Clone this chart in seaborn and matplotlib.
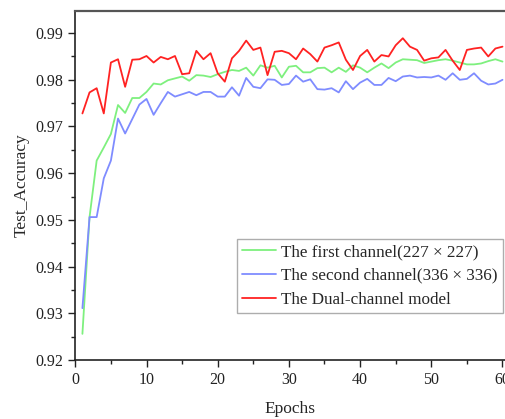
import matplotlib
matplotlib.use("Agg")
import matplotlib.pyplot as plt
import seaborn as sns
import pandas as pd
import numpy as np
from matplotlib.ticker import MultipleLocator

epochs = list(range(1, 61))

first_channel = [
    0.9256, 0.9506, 0.9627, 0.9655, 0.9684, 0.9746, 0.9729, 0.9761, 0.9761, 0.9774,
    0.9792, 0.9790, 0.9799, 0.9803, 0.9807, 0.9798, 0.9810, 0.9809, 0.9806, 0.9812,
    0.9817, 0.9821, 0.9819, 0.9826, 0.9809, 0.9831, 0.9826, 0.9830, 0.9805, 0.9828,
    0.9830, 0.9816, 0.9816, 0.9825, 0.9826, 0.9816, 0.9826, 0.9817, 0.9831, 0.9826,
    0.9816, 0.9826, 0.9835, 0.9825, 0.9837, 0.9844, 0.9843, 0.9842, 0.9836, 0.9839,
    0.9842, 0.9844, 0.9841, 0.9837, 0.9833, 0.9833, 0.9835, 0.9840, 0.9844, 0.9839,
]

second_channel = [
    0.9311, 0.9506, 0.9506, 0.9589, 0.9627, 0.9717, 0.9685, 0.9716, 0.9747, 0.9759,
    0.9725, 0.9750, 0.9774, 0.9764, 0.9769, 0.9774, 0.9767, 0.9774, 0.9774, 0.9764,
    0.9764, 0.9784, 0.9766, 0.9804, 0.9785, 0.9782, 0.9801, 0.9800, 0.9789, 0.9791,
    0.9809, 0.9796, 0.9801, 0.9780, 0.9779, 0.9782, 0.9773, 0.9797, 0.9780, 0.9794,
    0.9802, 0.9789, 0.9789, 0.9804, 0.9797, 0.9807, 0.9809, 0.9805, 0.9806, 0.9805,
    0.9809, 0.9800, 0.9814, 0.9800, 0.9802, 0.9814, 0.9798, 0.9790, 0.9792, 0.9800,
]

dual_channel = [
    0.9728, 0.9773, 0.9782, 0.9728, 0.9837, 0.9844, 0.9785, 0.9843, 0.9844, 0.9851,
    0.9837, 0.9849, 0.9844, 0.9851, 0.9812, 0.9814, 0.9862, 0.9844, 0.9857, 0.9814,
    0.9796, 0.9846, 0.9862, 0.9884, 0.9864, 0.9869, 0.9810, 0.9860, 0.9862, 0.9857,
    0.9844, 0.9867, 0.9855, 0.9839, 0.9869, 0.9874, 0.9880, 0.9843, 0.9821, 0.9851,
    0.9864, 0.9839, 0.9853, 0.9850, 0.9874, 0.9889, 0.9871, 0.9864, 0.9841, 0.9846,
    0.9848, 0.9864, 0.9841, 0.9821, 0.9864, 0.9867, 0.9869, 0.9850, 0.9867, 0.9871,
]

series_names = [
    "The first channel(227 \u00d7 227)",
    "The second channel(336 \u00d7 336)",
    "The Dual-channel model",
]
colors = ["#7ef07e", "#7f8cff", "#ff2222"]

df = pd.concat([
    pd.DataFrame({"Epochs": epochs, "acc": first_channel, "series": series_names[0]}),
    pd.DataFrame({"Epochs": epochs, "acc": second_channel, "series": series_names[1]}),
    pd.DataFrame({"Epochs": epochs, "acc": dual_channel, "series": series_names[2]}),
])

sns.set_theme(style="ticks")
plt.rcParams["font.family"] = ["Liberation Serif", "DejaVu Serif"]

fig = plt.figure(figsize=(5.06, 4.19), dpi=100)
axw = 506 - 75.3
ax = fig.add_axes([75.3 / 506, 59 / 419, axw / 506, 349 / 419])

sns.lineplot(data=df, x="Epochs", y="acc", hue="series", hue_order=series_names,
             palette=colors, linewidth=1.3, ax=ax)

ax.set_xlim(0, axw / 7.12)
ax.set_ylim(0.92, 0.92 + 349 / 4670)
ax.xaxis.set_major_locator(MultipleLocator(10))
ax.xaxis.set_minor_locator(MultipleLocator(5))
ax.yaxis.set_minor_locator(MultipleLocator(0.005))
yt = np.arange(0.92, 0.9901, 0.01)
ax.set_yticks(yt)
ax.set_yticklabels([f"{v:.2f}" for v in yt])

ax.tick_params(axis="both", which="major", direction="out", length=5, width=1,
               labelsize=11.5, colors="#222222")
ax.tick_params(axis="both", which="minor", direction="out", length=3, width=1,
               colors="#222222")
ax.tick_params(top=False, right=False, which="both")

for side in ["left", "bottom"]:
    ax.spines[side].set_color("#222222")
    ax.spines[side].set_linewidth(1.2)
ax.spines["top"].set_color("#555555")
ax.spines["top"].set_linewidth(1.6)
ax.spines["right"].set_visible(False)

ax.set_xlabel("Epochs", fontsize=12.5)
ax.xaxis.set_label_coords((290 - 75.3) / axw, -(401 - 360) / 349)
ax.set_ylabel("Test_Accuracy", fontsize=12.5)
ax.yaxis.set_label_coords(-(75.3 - 30) / axw, 0.5)

leg = ax.legend(loc="upper left", bbox_to_anchor=((236.7 - 75.3) / axw, (360 - 239) / 349),
                fontsize=12.3, frameon=True, fancybox=False, edgecolor="#999999",
                handlelength=2.0, handletextpad=0.3, borderpad=0.3, labelspacing=0.45,
                borderaxespad=0, title=None)
leg.get_frame().set_linewidth(1.0)

fig.savefig("out.png", dpi=100)
